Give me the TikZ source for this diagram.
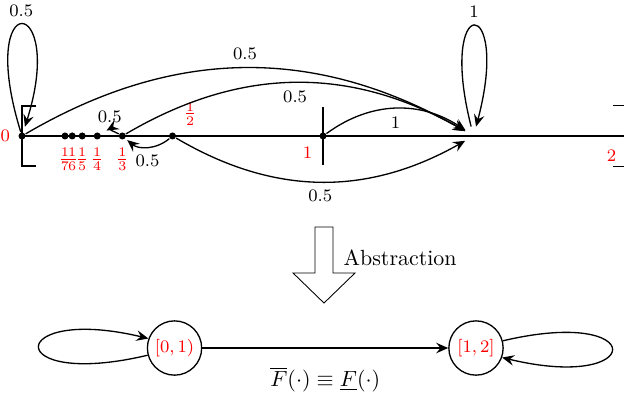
\documentclass[tikz,border=0pt]{standalone}
\usepackage{amsmath, amssymb}
\usetikzlibrary{arrows.meta,positioning}

\begin{document}
\begin{tikzpicture}[>={Stealth[length=5.5pt, width=4.8pt, inset=2pt]}, semithick,
    ptdot/.style={circle, fill, inner sep=0pt, minimum size=3.2pt},
    hub/.style={circle, inner sep=0pt, minimum size=0.29cm},
    numlbl/.style={red, font=\footnotesize},
    wlbl/.style={font=\footnotesize},
    cell/.style={circle, draw, inner sep=0pt, minimum size=0.87cm, text=red, font=\footnotesize}]

    \useasboundingbox (0,0) rectangle (10,6.346);

    % --- TOP: the interval [0,2] ---
    \begin{scope}[shift={(0.3526,4.167)}, x=4.824cm]
        \draw (0,0) -- (2,0);
        \draw (0,0.48) ++(0.22cm,0) -- (0,0.48) -- (0,-0.48) -- ++(0.22cm,0);
        \draw (2,0.49) ++(-0.17cm,0) -- ++(0.2cm,0) -- ++(0,-0.98) -- ++(-0.2cm,0);
        \draw (1,0.46) -- (1,-0.46);

        % points 1/n
        \node[ptdot, label={[numlbl]left:0}] (p0) at (0,0) {};
        \node[ptdot, label={[numlbl]below:$\frac{1}{7}$}] (p7) at (1/7,0) {};
        \node[ptdot, label={[numlbl]below:$\frac{1}{6}$}] (p6) at (1/6,0) {};
        \node[ptdot, label={[numlbl]below:$\frac{1}{5}$}] (p5) at (1/5,0) {};
        \node[ptdot, label={[numlbl]below:$\frac{1}{4}$}] (p4) at (1/4,0) {};
        \node[ptdot, label={[numlbl]below:$\frac{1}{3}$}] (p3) at (1/3,0) {};
        \node[ptdot, label={[numlbl]above right:$\frac{1}{2}$}] (p2) at (1/2,0) {};
        \node[ptdot, label={[numlbl]below left:1}] (p1) at (1,0) {};
        \node[hub] (t) at (1.5,0) {};
        \node[numlbl, below left, yshift=-0.1cm] (two) at (2,0) {2};

        % transitions
        \draw[->, shorten >=2.5pt] (p0) .. controls +(-0.75cm,2.42cm) and +(0.72cm,2.28cm) .. (p0)
            node[wlbl, pos=0.5, above] {0.5};
        \draw[->] (p0) to[bend left=30] node[wlbl, above] {0.5} (t);
        \draw[->] (p3) to[bend left=30] node[wlbl, below] {0.5} (t);
        \draw[->] (p1) to[bend left=35] node[wlbl, below] {1} (t);
        \draw[->] (p2) to[bend right=30] node[wlbl, below] {0.5} (t);
        \draw[->, shorten >=1pt] (p2) to[bend left=40] node[wlbl, below] {0.5} (p3);
        \draw[->, shorten >=3pt] (p3) to[bend right=30] node[wlbl, above] {0.5} (p4);
        \draw[->] (t) .. controls +(-0.59cm,2.32cm) and +(0.61cm,2.29cm) .. (t)
            node[wlbl, pos=0.5, above] {1};
    \end{scope}

    % --- MIDDLE: abstraction ---
    \draw[thin] (5.048,2.708) -- (5.337,2.708) -- (5.337,1.971) -- (5.689,1.971)
        -- (5.192,1.490) -- (4.696,1.971) -- (5.048,1.971) -- cycle;
    \node[right] (abstr) at (5.38,2.21) {Abstraction};

    % --- BOTTOM: abstract system ---
    \node[cell] (c0) at (2.797,0.769) {$[0, 1)$};
    \node[cell] (c1) at (7.628,0.769) {$[1, 2]$};
    \draw[->] (c0) -- node[below=5pt] {$\overline{F}(\cdot) \equiv \underline{F}(\cdot)$} (c1);
    \draw[->] (c0.195) .. controls +(-2.36,-0.56) and +(-2.29,0.55) .. (c0.160);
    \draw[->] (c1.15) .. controls +(2.36,0.56) and +(2.31,-0.56) .. (c1.-20);

\end{tikzpicture}
\end{document}
